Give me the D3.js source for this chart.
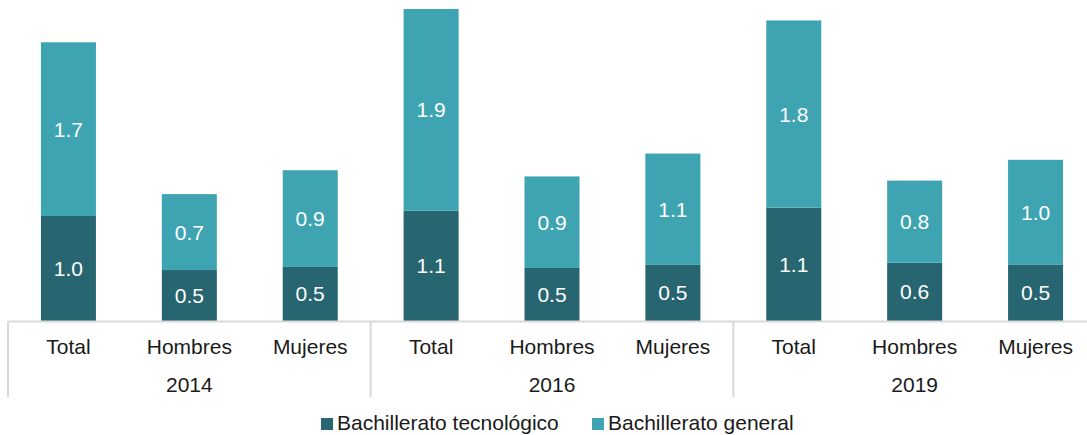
<!DOCTYPE html>
<html>
<head>
<meta charset="utf-8">
<script src="https://cdn.jsdelivr.net/npm/d3@7"></script>
<style>
  body { margin: 0; background: #fff; }
  text { font-family: "Liberation Sans", Arial, sans-serif; }
</style>
</head>
<body>
<svg class="plot" width="1087" height="435"></svg>
<script>
  // data
  var years = ["2014", "2016", "2019"]
  var groups = ["Total", "Hombres", "Mujeres"]
  var tecnologico = [1.01, 0.49, 0.52, 1.06, 0.51, 0.54, 1.09, 0.56, 0.54]
  var general = [1.67, 0.73, 0.93, 1.94, 0.88, 1.07, 1.80, 0.79, 1.01]
  var seriesNames = ["Bachillerato tecnológico", "Bachillerato general"]
  var colors = ["#276570", "#3ea4b2"]

  var width = 1087
  var height = 435
  var baseY = 321
  var fontSize = "21px"
  var svg = d3.select("svg.plot")

  var rows = []
  years.forEach((y, i) => {
    groups.forEach((g, j) => {
      var k = i * groups.length + j
      rows.push({ key: y + "-" + g, year: y, group: g, tec: tecnologico[k], gen: general[k] })
    })
  })

  var xScale = d3.scaleBand().domain(rows.map(d => d.key)).range([8, 1096]).paddingInner(0).paddingOuter(0)
  var yScale = d3.scaleLinear().domain([0, 3.0]).range([baseY, 9])
  var barW = 55
  var fmt = d3.format(".1f")

  var stack = d3.stack().keys(["tec", "gen"])(rows)

  stack.forEach((layer, li) => {
    svg.append("g").selectAll("rect")
      .data(layer)
      .join("rect")
      .attr("x", d => xScale(d.data.key) + xScale.bandwidth() / 2 - barW / 2)
      .attr("width", barW)
      .attr("y", d => yScale(d[1]))
      .attr("height", d => yScale(d[0]) - yScale(d[1]))
      .attr("fill", colors[li])
    svg.append("g").selectAll("text")
      .data(layer)
      .join("text")
      .attr("x", d => xScale(d.data.key) + xScale.bandwidth() / 2)
      .attr("y", d => (yScale(d[0]) + yScale(d[1])) / 2 + 7.5)
      .attr("text-anchor", "middle")
      .attr("fill", "#fff")
      .style("font-size", fontSize)
      .text(d => fmt(d[1] - d[0]))
  })

  // axis line
  var bottomAxis = d3.axisBottom(xScale).tickSize(0).tickFormat(k => k.split("-")[1])
  var axisG = svg.append("g")
    .attr("transform", "translate(0," + baseY + ")")
    .call(bottomAxis)
  axisG.select(".domain").attr("stroke", "#d9d9d9").attr("stroke-width", 2)
  axisG.selectAll(".tick text")
    .attr("y", 33)
    .attr("dy", 0)
    .attr("fill", "#1a1a1a")
    .style("font-size", fontSize)
    .style("font-family", "'Liberation Sans', Arial, sans-serif")

  // group separators and year labels
  var bw = xScale.bandwidth()
  years.forEach((y, i) => {
    var x0 = xScale(y + "-" + groups[0])
    svg.append("line")
      .attr("x1", x0).attr("x2", x0)
      .attr("y1", baseY).attr("y2", 397)
      .attr("stroke", "#d9d9d9").attr("stroke-width", 2)
    svg.append("text")
      .attr("x", x0 + bw * groups.length / 2)
      .attr("y", 392)
      .attr("text-anchor", "middle")
      .attr("fill", "#1a1a1a")
      .style("font-size", fontSize)
      .text(y)
  })

  // legend
  var legendX = [321, 592]
  seriesNames.forEach((name, i) => {
    svg.append("rect")
      .attr("x", legendX[i]).attr("y", 418)
      .attr("width", 12).attr("height", 12)
      .attr("fill", colors[i])
    svg.append("text")
      .attr("x", legendX[i] + 16)
      .attr("y", 430)
      .attr("fill", "#1a1a1a")
      .style("font-size", fontSize)
      .text(name)
  })
</script>
</body>
</html>
